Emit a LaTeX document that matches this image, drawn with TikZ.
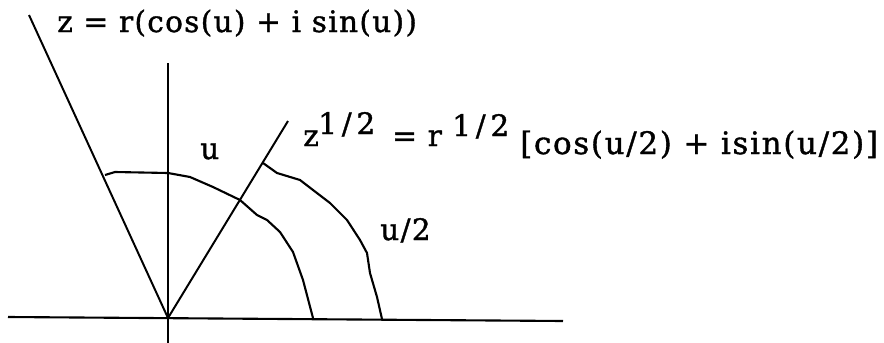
\documentclass[tikz,border=0pt]{standalone}
\usepackage{fontspec}
\setmainfont{DejaVu Serif}
\newfontfamily\figfont[LetterSpace=4.5, FakeBold=1.2]{DejaVu Serif}
\newfontfamily\expfont[LetterSpace=16, FakeBold=1.2]{DejaVu Serif}
\newfontfamily\brafont[LetterSpace=5.5, FakeBold=1.2]{DejaVu Serif}
\usetikzlibrary{positioning,calc}

\begin{document}
\begin{tikzpicture}[x=0.025cm, y=-0.025cm,
    axis/.style={line width=1.5pt},
    ray/.style={line width=1.4pt},
    arcline/.style={line width=1.5pt, line join=round},
    lbl/.style={inner sep=0pt, anchor=base west,
                font=\figfont\fontsize{21}{25}\selectfont},
    explbl/.style={lbl, font=\expfont\fontsize{21}{25}\selectfont},
    bralbl/.style={lbl, font=\brafont\fontsize{22}{26}\selectfont},
]
\useasboundingbox (0,0) rectangle (884,343);

%% ─── Axes ───────────────────────────────────────────────────────────────────
\coordinate (O)     at (168,318);
\coordinate (xl)    at (8,317);
\coordinate (xr)    at (563,321);
\coordinate (ytop)  at (168,63);
\coordinate (ybot)  at (168,343);
\draw[axis] (xl) -- (xr);
\draw[axis] (ytop) -- (ybot);

%% ─── Rays for z and z^{1/2} ─────────────────────────────────────────────────
\coordinate (zend)  at (29,15);
\coordinate (wend)  at (288,121);
\draw[ray] (O) -- (zend);
\draw[ray] (O) -- (wend);

%% ─── Angle arcs ─────────────────────────────────────────────────────────────
\draw[arcline] (105,175) -- (115,172) -- (168,173) -- (190,177) -- (213,187)
    -- (240,200) -- (257,215) -- (267,220) -- (280,232) -- (293,252)
    -- (303,280) -- (313,318);
\draw[arcline] (263,163) -- (277,173) -- (300,180) -- (313,190) -- (330,203)
    -- (347,220) -- (360,240) -- (367,253) -- (370,273) -- (377,297)
    -- (382,319);

%% ─── Labels ─────────────────────────────────────────────────────────────────
\node[lbl]    (zpolar) at (57,32)   {z = r(cos(u) + i sin(u))};
\node[lbl]    (zroot)  at (303,146) {z};
\node[explbl] (zexp)   at (318,134) {1/2};
\node[lbl]    (zeq)    at (392,146) {= r};
\node[explbl] (rexp)   at (452,136) {1/2};
\node[bralbl] (zform)  at (520,154) {[cos(u/2) + isin(u/2)]};
\node[lbl]    (uang)   at (200,159) {u};
\node[lbl]    (uhalf)  at (380,240) {u/2};

\end{tikzpicture}
\end{document}
